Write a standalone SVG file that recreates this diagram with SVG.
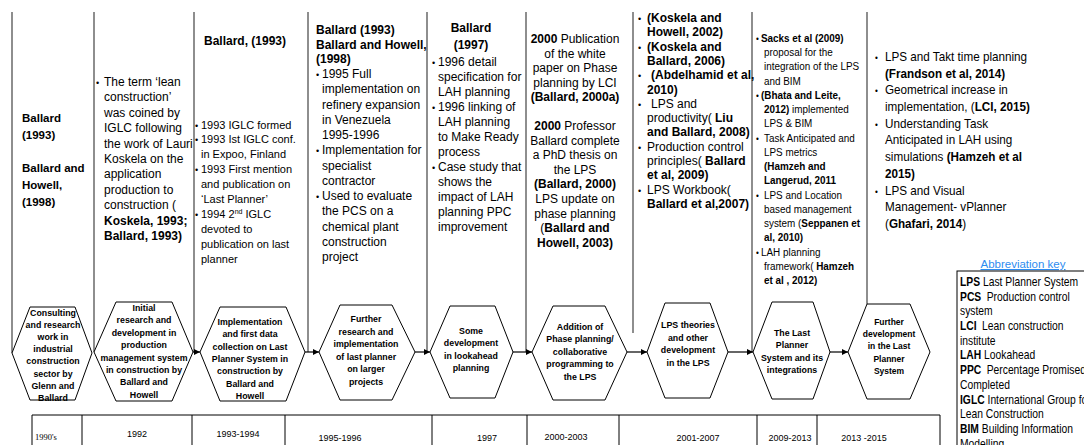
<svg xmlns="http://www.w3.org/2000/svg" width="1084" height="445" viewBox="0 0 1084 445">
<defs>
<style>
text{font-family:"Liberation Sans",Arial,sans-serif;fill:#000}
.t{font-size:12px}
.s11{font-size:11px}
.b{font-weight:bold}
.h{font-size:8.8px;font-weight:bold;text-anchor:middle}
.c{text-anchor:middle}
.bl{font-size:9px}
.hx{fill:#fff;stroke:#000;stroke-width:1}
.fr{stroke:#444;stroke-width:1.2;fill:none}
.cn{stroke:#000;stroke-width:1.2;fill:none}
.tb{stroke:#000;stroke-width:1;fill:none}
.yr{font-size:9px}
</style>
<marker id="ah" markerUnits="userSpaceOnUse" markerWidth="6" markerHeight="6" refX="6" refY="3" orient="auto">
<path d="M0,0 L6,3 L0,6 z" fill="#000"/>
</marker>
</defs>
<rect width="1084" height="445" fill="#fff"/>

<g id="frame">
<path class="fr" d="M12,12 V353 M94,12 V352 M194,12 V352 M308,12 V352 M427,12 V352 M526,12 V352 M633,12 V333 M752,12 V352 M867,12 V304"/>
</g>

<g id="col1" class="t b" font-size="11.5">
<text x="22" y="122" style="font-size:11.5px">Ballard</text>
<text x="22" y="139" style="font-size:11.5px">(1993)</text>
<text x="22" y="172" style="font-size:11.5px">Ballard and</text>
<text x="22" y="189" style="font-size:11.5px">Howell,</text>
<text x="22" y="206" style="font-size:11.5px">(1998)</text>
</g>

<g id="col2" class="t">
<text x="96" y="86" class="bl">•</text>
<text x="104" y="86">The term ‘lean</text>
<text x="104" y="101.4">construction’</text>
<text x="104" y="116.8">was coined by</text>
<text x="104" y="132.2">IGLC following</text>
<text x="104" y="147.6">the work of Lauri</text>
<text x="104" y="163">Koskela on the</text>
<text x="104" y="178.4">application</text>
<text x="104" y="193.8">production to</text>
<text x="104" y="209.2">construction (</text>
<text x="104" y="224.6" class="b">Koskela, 1993;</text>
<text x="104" y="240" class="b">Ballard, 1993)</text>
</g>

<g id="col3">
<text x="245" y="45" class="t b c">Ballard, (1993)</text>
<g class="s11">
<text x="195" y="129" class="bl">•</text>
<text x="201" y="129">1993 IGLC formed</text>
<text x="195" y="143" class="bl">•</text>
<text x="201" y="143">1993 Ist IGLC conf.</text>
<text x="201" y="158">in Expoo, Finland</text>
<text x="195" y="173" class="bl">•</text>
<text x="201" y="173">1993 First mention</text>
<text x="201" y="188">and publication on</text>
<text x="201" y="203">‘Last Planner’</text>
<text x="195" y="218" class="bl">•</text>
<text x="201" y="218">1994 2<tspan font-size="7" dy="-4">nd</tspan><tspan dy="4"> IGLC</tspan></text>
<text x="201" y="233">devoted to</text>
<text x="201" y="248">publication on last</text>
<text x="201" y="263">planner</text>
</g>
</g>

<g id="col4" class="t">
<text x="316" y="34" class="b">Ballard (1993)</text>
<text x="316" y="48.5" class="b">Ballard and Howell,</text>
<text x="316" y="63" class="b">(1998)</text>
<text x="316" y="78" class="bl">•</text>
<text x="322" y="78">1995 Full</text>
<text x="322" y="93.2">implementation on</text>
<text x="322" y="108.5">refinery expansion</text>
<text x="322" y="123.7">in Venezuela</text>
<text x="322" y="139">1995-1996</text>
<text x="316" y="154.2" class="bl">•</text>
<text x="322" y="154.2">Implementation for</text>
<text x="322" y="169.5">specialist</text>
<text x="322" y="184.7">contractor</text>
<text x="316" y="200" class="bl">•</text>
<text x="322" y="200">Used to evaluate</text>
<text x="322" y="215.2">the PCS on a</text>
<text x="322" y="230.5">chemical plant</text>
<text x="322" y="245.7">construction</text>
<text x="322" y="261">project</text>
</g>

<g id="col5" class="t">
<text x="471" y="32" class="b c">Ballard</text>
<text x="471" y="49" class="b c">(1997)</text>
<text x="432" y="66" class="bl">•</text>
<text x="438" y="66">1996 detail</text>
<text x="438" y="81">specification for</text>
<text x="438" y="96">LAH planning</text>
<text x="432" y="111" class="bl">•</text>
<text x="438" y="111">1996 linking of</text>
<text x="438" y="126">LAH planning</text>
<text x="438" y="141">to Make Ready</text>
<text x="438" y="156">process</text>
<text x="432" y="171" class="bl">•</text>
<text x="438" y="171">Case study that</text>
<text x="438" y="186">shows the</text>
<text x="438" y="201">impact of LAH</text>
<text x="438" y="216">planning PPC</text>
<text x="438" y="231">improvement</text>
</g>

<g id="col6" class="t c">
<text x="575" y="43"><tspan class="b">2000</tspan> Publication</text>
<text x="575" y="57.6">of the white</text>
<text x="575" y="72.2">paper on Phase</text>
<text x="575" y="86.8">planning by LCI</text>
<text x="575" y="101.4" class="b">(Ballard, 2000a)</text>
<text x="575" y="130"><tspan class="b">2000</tspan> Professor</text>
<text x="575" y="144.6">Ballard complete</text>
<text x="575" y="159.2">a PhD thesis on</text>
<text x="575" y="173.8">the LPS</text>
<text x="575" y="188.4" class="b">(Ballard, 2000)</text>
<text x="575" y="203">LPS update on</text>
<text x="575" y="217.6">phase planning</text>
<text x="575" y="232.2">(<tspan class="b">Ballard and</tspan></text>
<text x="575" y="246.8" class="b">Howell, 2003)</text>
</g>

<g id="col7" class="t">
<text x="638" y="22" class="bl">•</text>
<text x="647" y="22" class="b">(Koskela and</text>
<text x="647" y="36.3" class="b">Howell, 2002)</text>
<text x="638" y="50.6" class="bl">•</text>
<text x="647" y="50.6" class="b">(Koskela and</text>
<text x="647" y="64.9" class="b">Ballard, 2006)</text>
<text x="638" y="79.2" class="bl">•</text>
<text x="651" y="79.2" class="b">(Abdelhamid et al,</text>
<text x="647" y="93.5" class="b">2010)</text>
<text x="638" y="107.8" class="bl">•</text>
<text x="651" y="107.8">LPS and</text>
<text x="647" y="122.1">productivity(<tspan class="b"> Liu</tspan></text>
<text x="647" y="136.4" class="b">and Ballard, 2008)</text>
<text x="638" y="150.7" class="bl">•</text>
<text x="647" y="150.7">Production control</text>
<text x="647" y="165">principles(<tspan class="b"> Ballard</tspan></text>
<text x="647" y="179.3" class="b">et al, 2009)</text>
<text x="638" y="193.6" class="bl">•</text>
<text x="647" y="193.6">LPS Workbook(</text>
<text x="647" y="207.9" class="b">Ballard et al,2007)</text>
</g>

<g id="col8" transform="translate(756,0) scale(0.9,1)" class="s11">
<text x="0" y="42" class="bl">•</text>
<text x="5.6" y="42" class="b">Sacks et al (2009)</text>
<text x="8.9" y="56.2">proposal for the</text>
<text x="8.9" y="70.5">integration of  the LPS</text>
<text x="8.9" y="84.7">and BIM</text>
<text x="0" y="99" class="bl">•</text>
<text x="5.6" y="99" class="b">(Bhata and Leite,</text>
<text x="8.9" y="113.2"><tspan class="b">2012)</tspan> implemented</text>
<text x="8.9" y="127.4">LPS &amp; BIM</text>
<text x="0" y="141.7" class="bl">•</text>
<text x="8.9" y="141.7">Task Anticipated and</text>
<text x="8.9" y="155.9">LPS metrics</text>
<text x="8.9" y="170.2" class="b">(Hamzeh and</text>
<text x="8.9" y="184.4" class="b">Langerud, 2011</text>
<text x="0" y="198.6" class="bl">•</text>
<text x="8.9" y="198.6">LPS and Location</text>
<text x="8.9" y="212.9">based management</text>
<text x="8.9" y="227.1">system (<tspan class="b">Seppanen et</tspan></text>
<text x="8.9" y="241.4" class="b">al, 2010)</text>
<text x="0" y="255.6" class="bl">•</text>
<text x="5.6" y="255.6">LAH planning</text>
<text x="8.9" y="269.8">framework(<tspan class="b"> Hamzeh</tspan></text>
<text x="8.9" y="284.1" class="b">et al , 2012)</text>
</g>

<g id="col9" transform="translate(875,0) scale(0.9,1)" style="font-size:13px">
<text x="0" y="61" class="bl">•</text>
<text x="11.1" y="61">LPS and Takt time planning</text>
<text x="11.1" y="77.7" class="b">(Frandson et al, 2014)</text>
<text x="0" y="94.4" class="bl">•</text>
<text x="11.1" y="94.4">Geometrical increase in</text>
<text x="11.1" y="111.1">implementation, (<tspan class="b">LCI, 2015)</tspan></text>
<text x="0" y="127.8" class="bl">•</text>
<text x="11.1" y="127.8">Understanding Task</text>
<text x="11.1" y="144.5">Anticipated in LAH using</text>
<text x="11.1" y="161.2">simulations <tspan class="b">(Hamzeh  et al</tspan></text>
<text x="11.1" y="177.9" class="b">2015)</text>
<text x="0" y="194.6" class="bl">•</text>
<text x="11.1" y="194.6">LPS and Visual</text>
<text x="11.1" y="211.3">Management- vPlanner</text>
<text x="11.1" y="228">(<tspan class="b">Ghafari, 2014</tspan>)</text>
</g>

<g id="connectors">
<line class="cn" x1="193" y1="352" x2="200" y2="352" marker-end="url(#ah)"/>
<line class="cn" x1="305" y1="352" x2="319" y2="352" marker-end="url(#ah)"/>
<line class="cn" x1="415" y1="352" x2="430" y2="352" marker-end="url(#ah)"/>
<line class="cn" x1="513" y1="352" x2="532" y2="352" marker-end="url(#ah)"/>
<line class="cn" x1="627" y1="352" x2="647" y2="352" marker-end="url(#ah)"/>
<line class="cn" x1="728" y1="352" x2="753" y2="352" marker-end="url(#ah)"/>
<line class="cn" x1="830" y1="352" x2="848" y2="352" marker-end="url(#ah)"/>
</g>

<g id="hex1">
<polygon class="hx" points="12,353 30,307 75,307 92,353 75,400 30,400"/>
<text class="h" x="53" y="316">Consulting</text>
<text class="h" x="53" y="328.1">and research</text>
<text class="h" x="53" y="340.2">work in</text>
<text class="h" x="53" y="352.3">industrial</text>
<text class="h" x="53" y="364.4">construction</text>
<text class="h" x="53" y="376.5">sector by</text>
<text class="h" x="53" y="388.6">Glenn and</text>
<text class="h" x="53" y="400.7">Ballard</text>
</g>
<g id="hex2">
<polygon class="hx" points="94,352 116,302 172,302 193,352 172,401 116,401"/>
<text class="h" x="144" y="311">Initial</text>
<text class="h" x="144" y="323.4">research and</text>
<text class="h" x="144" y="335.8">development in</text>
<text class="h" x="144" y="348.2">production</text>
<text class="h" x="144" y="360.6">management system</text>
<text class="h" x="144" y="373">in construction by</text>
<text class="h" x="144" y="385.4">Ballard and</text>
<text class="h" x="144" y="397.8">Howell</text>
</g>
<g id="hex3">
<polygon class="hx" points="200,352 220,307 286,307 305,352 286,401 220,401"/>
<text class="h" x="250" y="325">Implementation</text>
<text class="h" x="250" y="337.3">and first data</text>
<text class="h" x="250" y="349.6">collection on Last</text>
<text class="h" x="250" y="361.9">Planner System in</text>
<text class="h" x="250" y="374.2">construction by</text>
<text class="h" x="250" y="386.5">Ballard and</text>
<text class="h" x="250" y="398.8">Howell</text>
</g>
<g id="hex4">
<polygon class="hx" points="319,352 340,305 392,305 415,352 392,400 340,400"/>
<text class="h" x="366" y="322">Further</text>
<text class="h" x="366" y="334.6">research and</text>
<text class="h" x="366" y="347.2">implementation</text>
<text class="h" x="366" y="359.8">of last planner</text>
<text class="h" x="366" y="372.4">on larger</text>
<text class="h" x="366" y="385">projects</text>
</g>
<g id="hex5">
<polygon class="hx" points="430,352 450,306 495,306 513,352 495,398 450,398"/>
<text class="h" x="471" y="334">Some</text>
<text class="h" x="471" y="346.4">development</text>
<text class="h" x="471" y="358.8">in lookahead</text>
<text class="h" x="471" y="371.2">planning</text>
</g>
<g id="hex6">
<polygon class="hx" points="532,352 553,306 605,306 627,352 605,400 553,400"/>
<text class="h" x="580" y="330">Addition of</text>
<text class="h" x="580" y="342.4">Phase planning/</text>
<text class="h" x="580" y="354.8">collaborative</text>
<text class="h" x="580" y="367.2">programming  to</text>
<text class="h" x="580" y="379.6">the LPS</text>
</g>
<g id="hex7">
<polygon class="hx" points="647,352 665,303 710,303 728,352 710,398 665,398"/>
<text class="h" x="688" y="328">LPS theories</text>
<text class="h" x="688" y="340.6">and other</text>
<text class="h" x="688" y="353.2">development</text>
<text class="h" x="688" y="365.8">in the LPS</text>
</g>
<g id="hex8">
<polygon class="hx" points="753,352 772,302 813,302 830,352 813,399 772,399"/>
<text class="h" x="792" y="336">The Last</text>
<text class="h" x="792" y="348.3">Planner</text>
<text class="h" x="792" y="360.6">System and its</text>
<text class="h" x="792" y="372.9">integrations</text>
</g>
<g id="hex9">
<polygon class="hx" points="848,352 867,304 910,304 930,352 910,399 867,399"/>
<text class="h" x="889" y="325" style="font-size:8.5px">Further</text>
<text class="h" x="889" y="337.2" style="font-size:8.5px">development</text>
<text class="h" x="889" y="349.4" style="font-size:8.5px">in the Last</text>
<text class="h" x="889" y="361.6" style="font-size:8.5px">Planner</text>
<text class="h" x="889" y="373.8" style="font-size:8.5px">System</text>
</g>

<g id="timeline">
<path class="tb" d="M32,415 H940 M32,415 V445 M82,415 V445 M192,415 V445 M285,415 V445 M432,415 V445 M527,415 V445 M619,415 V445 M757,415 V445 M817,415 V445 M940,415 V445"/>
<text x="46" y="440" class="c" style="font-family:'Liberation Serif',serif;font-size:8.5px">1990's</text>
<text x="137" y="437" class="yr c">1992</text>
<text x="238" y="437" class="yr c">1993-1994</text>
<text x="340" y="441" class="yr c">1995-1996</text>
<text x="487" y="441" class="yr c">1997</text>
<text x="566" y="440" class="yr c">2000-2003</text>
<text x="698" y="441" class="yr c">2001-2007</text>
<text x="790" y="441" class="yr c">2009-2013</text>
<text x="864" y="441" class="yr c">2013 -2015</text>
</g>

<g id="key">
<text x="1023" y="268" class="c" style="font-size:11.5px;fill:#2e8cf0;text-decoration:underline">Abbreviation key</text>
<rect x="957" y="271" width="140" height="190" fill="#fff" stroke="#000" stroke-width="1"/>
<g transform="translate(960,0) scale(0.86,1)" class="t">
<text x="0" y="286"><tspan class="b">LPS</tspan> Last Planner System</text>
<text x="0" y="300.7"><tspan class="b">PCS</tspan><tspan dx="3"> Production control</tspan></text>
<text x="0" y="315.4">system</text>
<text x="0" y="330.1"><tspan class="b">LCI</tspan><tspan dx="3"> Lean construction</tspan></text>
<text x="0" y="344.8">institute</text>
<text x="0" y="359.5"><tspan class="b">LAH</tspan> Lookahead</text>
<text x="0" y="374.2"><tspan class="b">PPC</tspan><tspan dx="3"> Percentage Promised</tspan></text>
<text x="0" y="388.9">Completed</text>
<text x="0" y="403.6"><tspan class="b">IGLC</tspan> International Group for</text>
<text x="0" y="418.3">Lean Construction</text>
<text x="0" y="433"><tspan class="b">BIM</tspan> Building Information</text>
<text x="0" y="447.7">Modelling</text>
</g>
</g>
</svg>
